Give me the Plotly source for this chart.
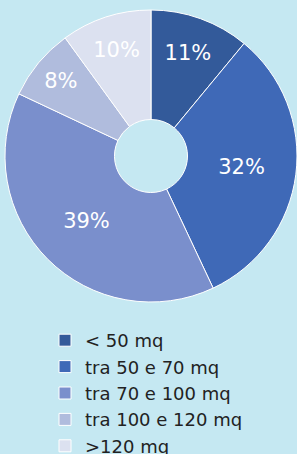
import plotly.graph_objects as go

labels = ["< 50 mq", "tra 50 e 70 mq", "tra 70 e 100 mq", "tra 100 e 120 mq", ">120 mq"]
values = [11, 32, 39, 8, 10]
colors = ["#335a9a", "#3f69b7", "#7a8fcc", "#b0bcdd", "#dce1f0"]

W, H = 297, 454
bg = "#c5e8f2"

fig = go.Figure(go.Pie(
    labels=labels,
    values=values,
    sort=False,
    direction="clockwise",
    rotation=0,
    hole=0.25,
    marker=dict(colors=colors, line=dict(color="white", width=1)),
    textinfo="percent",
    texttemplate="%{percent:.0%}",
    textposition="inside",
    insidetextorientation="horizontal",
    textfont=dict(family="DejaVu Sans", size=21, color="white"),
    domain=dict(x=[5 / W, 1.0], y=[1 - 302 / H, 1 - 10 / H]),
    showlegend=True,
))

fig.update_layout(
    width=W, height=H,
    margin=dict(l=0, r=0, t=0, b=0, autoexpand=False),
    paper_bgcolor=bg, plot_bgcolor=bg,
    legend=dict(
        x=45 / W, xanchor="left",
        y=1 - 322 / H, yanchor="top",
        font=dict(family="DejaVu Sans", size=18, color="#222222"),
        bgcolor="rgba(0,0,0,0)",
        traceorder="normal",
    ),
)

fig.write_html(
    "out.html",
    config={"displayModeBar": False},
    post_script="document.body.style.margin='0';document.body.style.background='%s';" % bg,
)
